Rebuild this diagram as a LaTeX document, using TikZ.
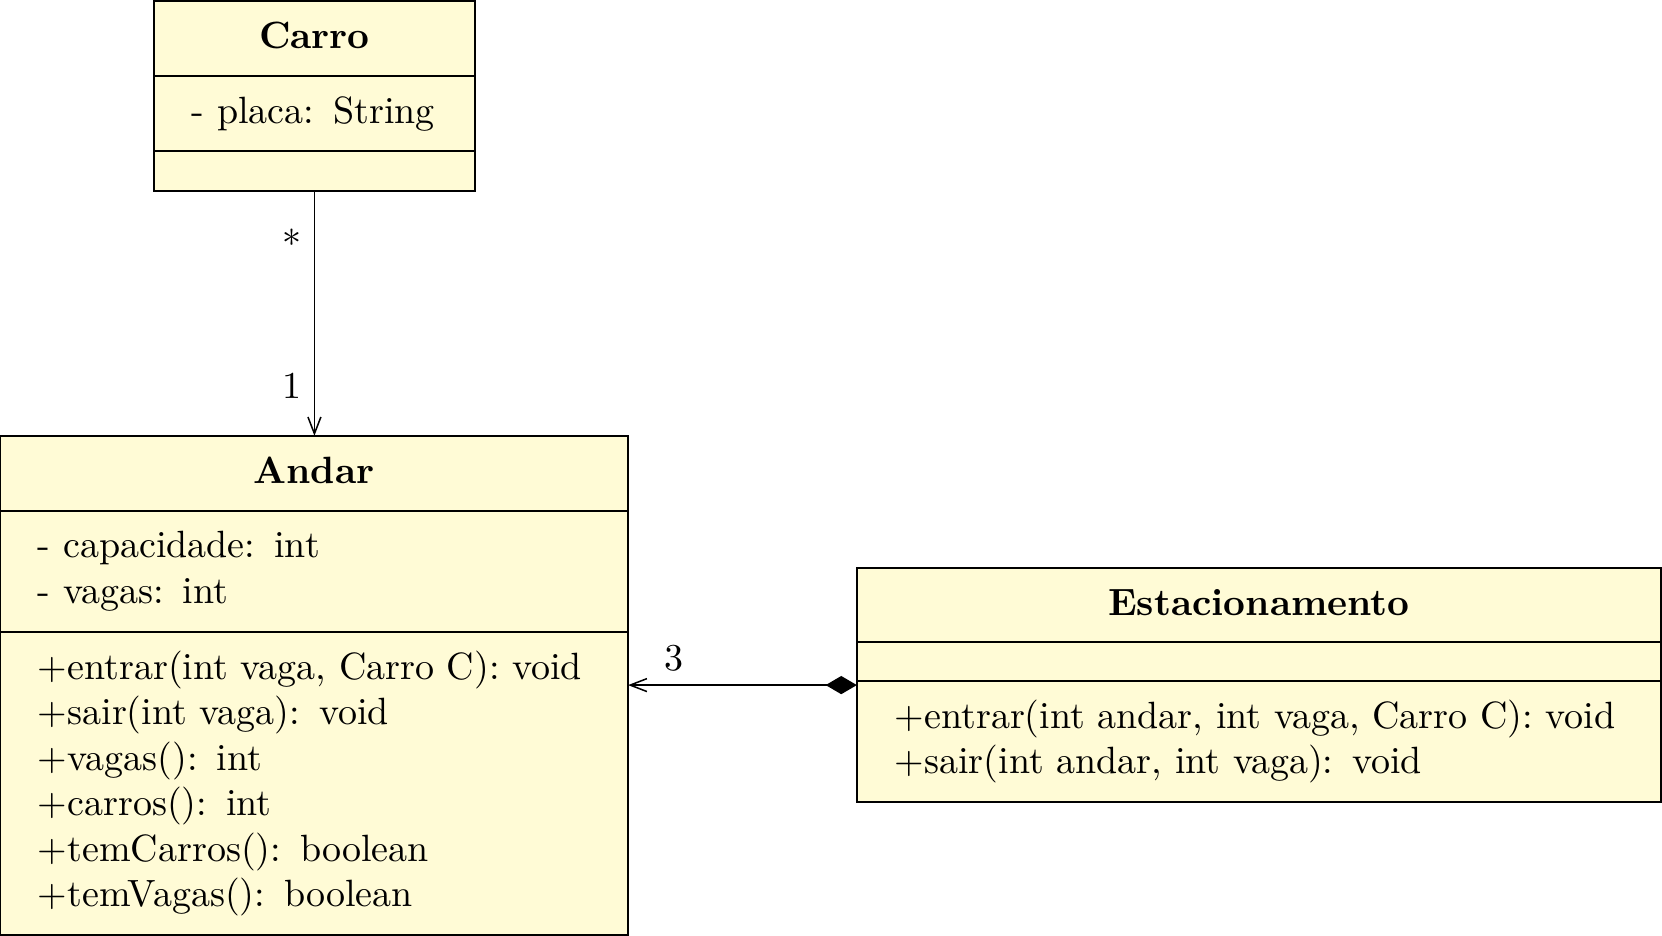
\documentclass[tikz,border=0pt]{standalone}
\usetikzlibrary{positioning,arrows.meta}
\definecolor{umlfill}{RGB}{255,251,214}

\begin{document}
\begin{tikzpicture}[x=1pt,y=1pt,
    classname/.style={draw,fill=umlfill,font=\bfseries,inner sep=0pt,outer sep=0pt,
      text height=6.9pt,text depth=1.6pt,anchor=north west},
    classpart/.style={draw,fill=umlfill,inner xsep=10pt,inner ysep=0pt,outer sep=0pt,align=left,anchor=north},
    assoc/.style={-{Straight Barb[length=4.4pt,width=3.4pt]}},
    compo/.style={{Diamond[length=8.2pt,width=4.8pt]}-{Straight Barb[length=4.4pt,width=3.4pt]}}]
  \useasboundingbox (0,0) rectangle (437.4,-246.3);
  % Carro
  \node[classname,minimum width=84.5pt,minimum height=19.7pt] (carro) at (40.5,-0.3) {Carro};
  \node[classpart,text width=64.5pt,minimum height=19.8pt,below=0pt of carro] (carroattr) {- placa: String};
  \node[classpart,text width=64.5pt,minimum height=10.5pt,below=0pt of carroattr] (carroops) {};
  % Andar
  \node[classname,minimum width=165.3pt,minimum height=19.8pt] (andar) at (0,-114.7) {Andar};
  \node[classpart,text width=145.3pt,minimum height=31.8pt,below=0pt of andar] (andarattr)
    {- capacidade: int\\- vagas: int};
  \node[classpart,text width=145.3pt,minimum height=79.8pt,below=0pt of andarattr] (andarops)
    {+entrar(int vaga, Carro C): void\\+sair(int vaga): void\\+vagas(): int\\+carros(): int\\
     +temCarros(): boolean\\+temVagas(): boolean};
  % Estacionamento
  \node[classname,minimum width=211.6pt,minimum height=19.5pt] (estac) at (225.5,-149.5) {Estacionamento};
  \node[classpart,text width=191.6pt,minimum height=10.2pt,below=0pt of estac] (estacattr) {};
  \node[classpart,text width=191.6pt,minimum height=31.9pt,below=0pt of estacattr] (estacops)
    {+entrar(int andar, int vaga, Carro C): void\\+sair(int andar, int vaga): void};
  % relacoes
  \draw[assoc] (carroops.south) -- (carroops.south |- andar.north)
    node[pos=0,below left,yshift=-6.5pt] {*}
    node[pos=1,above left,yshift=6.3pt] {1};
  \coordinate (pisos) at ([yshift=-1.1pt]estacops.north west);
  \draw[compo] (pisos) -- (pisos -| andarops.east)
    node[pos=1,above right,xshift=6pt] {3};
\end{tikzpicture}
\end{document}
